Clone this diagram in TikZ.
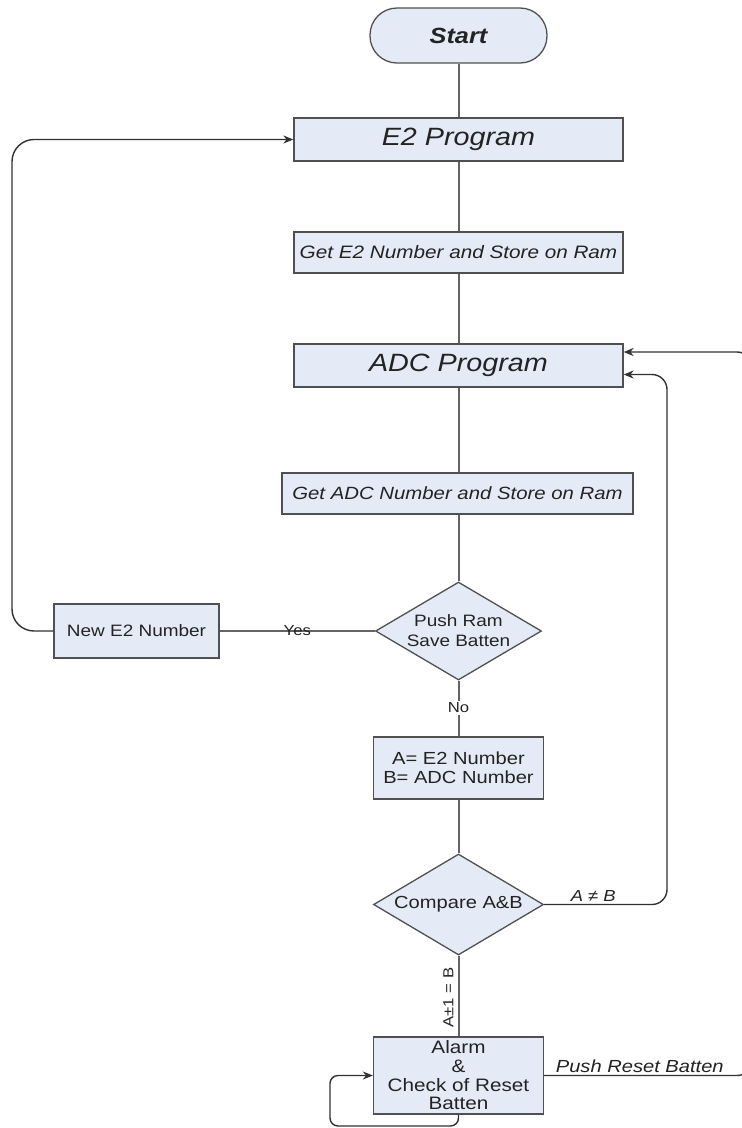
\documentclass[tikz,border=0pt]{standalone}
\usepackage{fontspec}
\setmainfont{Liberation Sans}[FakeStretch=1.15]
\usetikzlibrary{shapes.geometric,arrows.meta}
\definecolor{boxc}{RGB}{229,235,246}
\definecolor{bordc}{RGB}{80,80,80}
\definecolor{linec}{RGB}{100,100,100}
\definecolor{darkc}{RGB}{50,50,50}
\definecolor{txtc}{RGB}{35,35,35}
\newcommand\myfs[2]{\fontsize{#1}{#2}\selectfont}
\tikzset{
  box/.style={draw=bordc, fill=boxc, line width=1.3pt, rectangle, inner sep=0pt, text=txtc, align=center},
  term/.style={box, rounded corners=27pt},
  dia/.style={draw=bordc, fill=boxc, line width=1.3pt, diamond, inner sep=0pt, aspect=1.7, text=txtc, align=center},
  conn/.style={draw=linec, line width=2pt},
  loopc/.style={draw=darkc, line width=1.4pt, -{Stealth[length=10pt,width=8pt]}},
  lab/.style={text=txtc, inner sep=1.5pt}
}
\begin{document}
\begin{tikzpicture}[x=1pt,y=-1pt]
\useasboundingbox (0,0) rectangle (742,1128);
\fill[white] (0,0) rectangle (742,1128);
\clip (0,0) rectangle (742,1128);

% nodes
\node[term, minimum width=177pt, minimum height=55pt, font=\myfs{22}{26}\bfseries\itshape] (start) at (458.5,35.5) {Start};
\node[box, minimum width=329pt, minimum height=43pt, font=\myfs{25}{30}\itshape] (e2) at (458.5,139.5) {E2 Program};
\node[box, minimum width=329pt, minimum height=41pt, font=\myfs{18}{22}\itshape] (gete2) at (458.5,252.5) {Get E2 Number and Store on Ram};
\node[box, minimum width=329pt, minimum height=43pt, font=\myfs{25}{30}\itshape] (adc) at (458.5,365.5) {ADC Program};
\node[box, minimum width=351pt, minimum height=41pt, font=\myfs{17.7}{22}\itshape] (getadc) at (457.5,493.5) {Get ADC Number and Store on Ram};
\node[dia, minimum width=166pt, minimum height=98pt, font=\myfs{16.5}{20}] (push) at (458.5,631) {Push Ram\\Save Batten};
\node[box, minimum width=165pt, minimum height=54pt, font=\myfs{16.5}{20}] (newe2) at (136.5,631) {New E2 Number};
\node[box, minimum width=170pt, minimum height=62pt, font=\myfs{17.5}{19}] (ab) at (458.5,768) {A= E2 Number\\B= ADC Number};
\node[dia, minimum width=170pt, minimum height=101pt, font=\myfs{17.5}{20}] (cmp) at (458.5,904.5) {Compare A\&B};
\node[box, minimum width=170pt, minimum height=77pt, font=\myfs{18}{18.7}] (alarm) at (458.5,1075.5) {Alarm\\\&\\Check of Reset\\Batten};

% corner coordinates
\coordinate (ll) at (12,139.5);
\coordinate (c1) at (667,904.5);
\coordinate (c2) at (752,1075.5);
\coordinate (sl) at (330,1126);
\coordinate (adcin) at ([yshift=-9pt]adc.east);
\coordinate (adctop) at ([yshift=13.5pt]adc.east);

% main column
\draw[conn] (start.south) -- (e2.north);
\draw[conn] (e2.south) -- (gete2.north);
\draw[conn] (gete2.south) -- (adc.north);
\draw[conn] (adc.south) -- (adc.south |- getadc.north);
\draw[conn] (adc.south |- getadc.south) -- (push.north);
\draw[conn] (push.west) -- node[lab, pos=0.5, font=\myfs{14.5}{16}] {Yes} (newe2.east);
\draw[conn] (push.south) -- node[lab, fill=white, pos=0.49, font=\myfs{14.5}{16}] {No} (ab.north);
\draw[conn] (ab.south) -- (cmp.north);
\draw[conn] (cmp.south) -- node[lab, pos=0.52, xshift=-10pt, rotate=90, font=\myfs{14.5}{16}] {A±1 = B} (alarm.north);

% loops
\draw[loopc, rounded corners=22pt] (newe2.west) -| (ll) -- (e2.west);
\draw[loopc, rounded corners=15pt] (cmp.east) -- node[lab, above, pos=0.4, inner sep=2.5pt, font=\myfs{16}{18}\itshape] {A ≠ B} (c1) -- (c1 |- adcin) -- (adcin);
\draw[loopc, rounded corners=15pt] (alarm.east) -- node[lab, above, pos=0.46, inner sep=2.5pt, font=\myfs{17.5}{19}\itshape] {Push Reset Batten} (c2) -- (c2 |- adctop) -- (adctop);
\draw[loopc, rounded corners=8pt] (alarm.south) |- (sl) |- (alarm.west);
\end{tikzpicture}
\end{document}
